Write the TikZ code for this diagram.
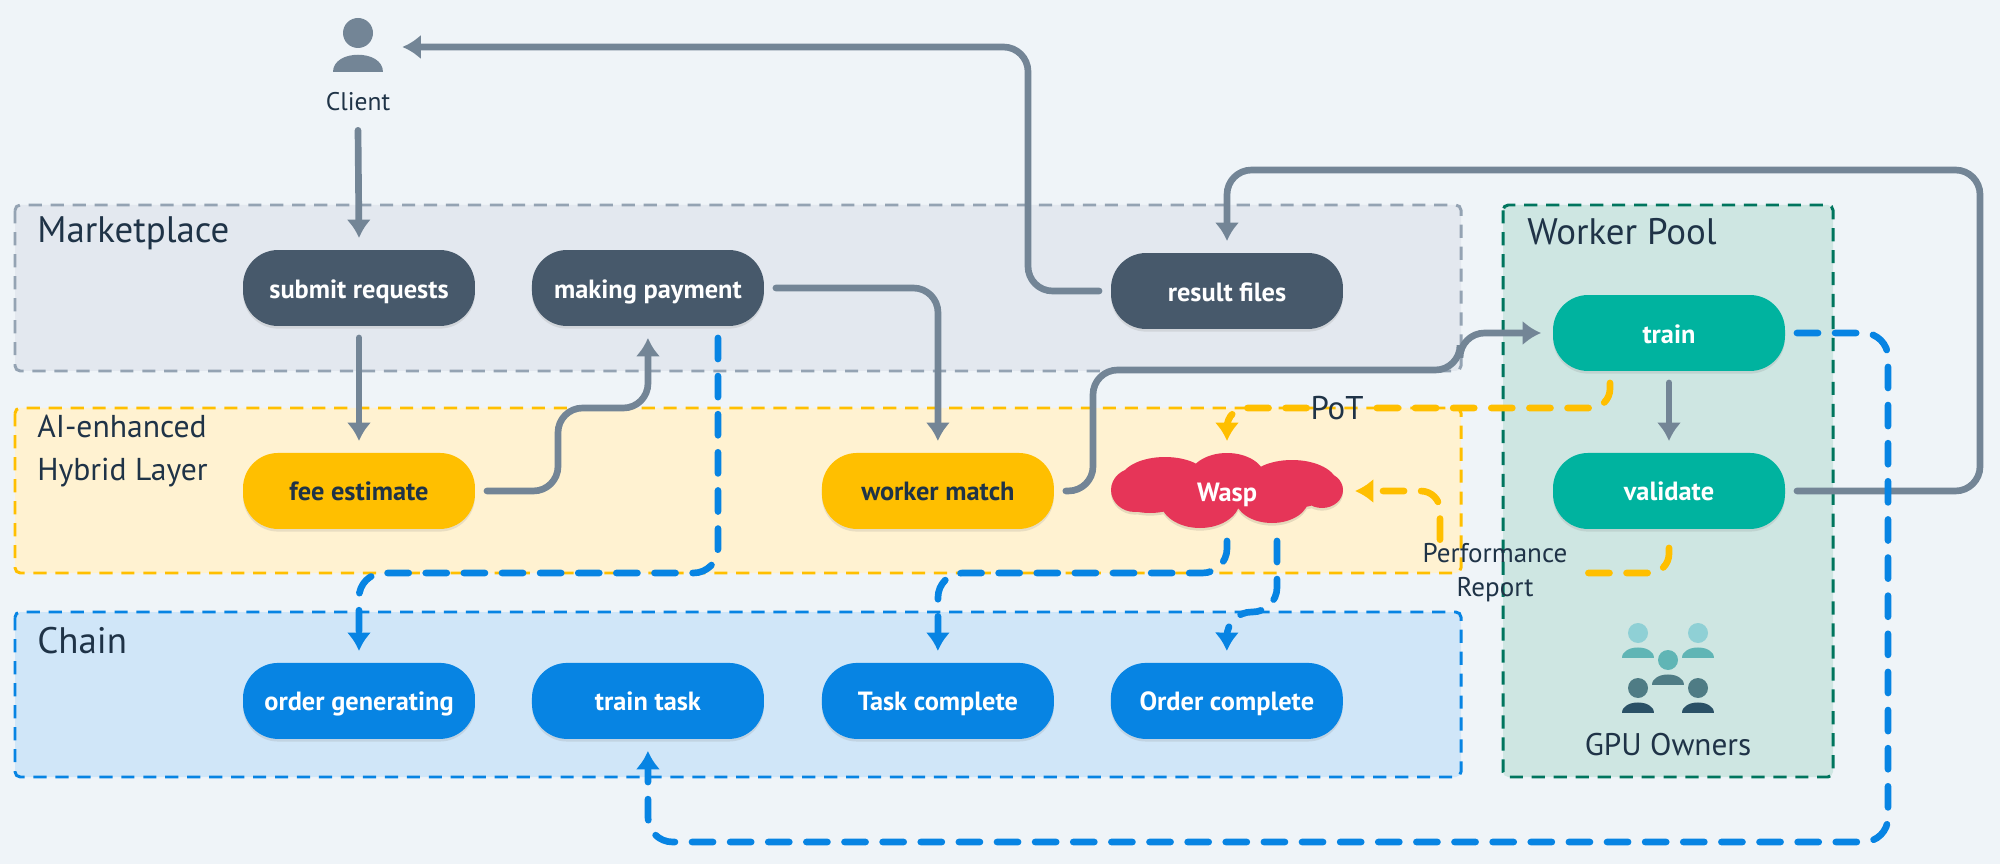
\documentclass[tikz,border=0pt]{standalone}
\usepackage{fontspec}
\setmainfont{PT Sans}
\usepackage{tikz}
\usetikzlibrary{arrows.meta,calc,shadows}
\definecolor{pagecol}{HTML}{EFF4F8}
\definecolor{inkcol}{HTML}{1F3347}
\definecolor{flowgray}{HTML}{738596}
\definecolor{flowyellow}{HTML}{FFBF00}
\definecolor{flowblue}{HTML}{0784E3}
\definecolor{pillgray}{HTML}{47596B}
\definecolor{pillgreen}{HTML}{00B39F}
\definecolor{waspred}{HTML}{E63558}
\definecolor{marketfill}{HTML}{E3E8EF}
\definecolor{marketline}{HTML}{94A3B3}
\definecolor{hybridfill}{HTML}{FFF2D1}
\definecolor{chainfill}{HTML}{D0E6F8}
\definecolor{poolfill}{HTML}{CEE6E2}
\definecolor{poolline}{HTML}{00755E}
\definecolor{iconlight}{HTML}{8FD0D5}
\definecolor{iconmid}{HTML}{60B5B5}
\definecolor{icondim}{HTML}{4F7C85}
\definecolor{icondark}{HTML}{2A5166}
\tikzset{
  regionbox/.style={line width=1.7pt,dash pattern=on 7.5pt off 5pt,rounded corners=3pt},
  regionlabel/.style={anchor=west,align=left,text=inkcol,inner sep=0pt,font=\fontsize{21}{24}\selectfont},
  smalllabel/.style={text=inkcol,inner sep=0pt,align=center,font=\fontsize{15.4}{19.3}\selectfont},
  pilltext/.style={text=white,text height=11.4pt,text depth=0pt,font=\fontsize{15}{15}\selectfont\bfseries},
  pill/.style={pilltext,rounded corners=20pt,minimum width=4.64cm,minimum height=1.52cm,outer sep=6.8pt,
    drop shadow={opacity=.18,shadow xshift=0pt,shadow yshift=-1.5pt}},
  graypill/.style={pill,fill=pillgray},
  yellowpill/.style={pill,fill=flowyellow,text=inkcol},
  bluepill/.style={pill,fill=flowblue},
  greenpill/.style={pill,fill=pillgreen},
  flowtip/.style={-{Latex[length=10.5pt,width=14pt]}},
  grayflow/.style={flowtip,draw=flowgray,line width=3.8pt,line cap=round,rounded corners=14pt},
  yellowflow/.style={draw=flowyellow,line width=3.8pt,line cap=round,rounded corners=11pt,dash pattern=on 12pt off 9.7pt},
  blueflow/.style={flowtip,draw=flowblue,line width=3.8pt,line cap=round,rounded corners=14pt,dash pattern=on 12pt off 9.7pt},
  cloudpath/.style={insert path={(1165,481) ellipse [x radius=45,y radius=24] (1227,478) ellipse [x radius=38,y radius=25]
    (1292,484) ellipse [x radius=45,y radius=24] (1135,490) ellipse [x radius=24,y radius=22]
    (1150,495) ellipse [x radius=35,y radius=18] (1200,500) ellipse [x radius=40,y radius=28]
    (1272,498) ellipse [x radius=37,y radius=25] (1322,490) ellipse [x radius=21,y radius=18]}},
}
% head and shoulders: x, head y, head radius, half width of the shoulders, head colour, body colour
\newcommand{\personicon}[6]{
  \fill[#5] (#1,#2) circle (#3);
  \fill[#6] (#1-#4,#2+#3+#4*.95) .. controls (#1-#4,#2+#3+#4*.05) and (#1+#4,#2+#3+#4*.05) .. (#1+#4,#2+#3+#4*.95) -- cycle;
}
\begin{document}
\begin{tikzpicture}[x=0.02cm,y=-0.02cm]
  \path[use as bounding box,fill=pagecol] (0,0) rectangle (2000,864);

  % regions
  \draw[regionbox,fill=marketfill,draw=marketline] (15,205) rectangle (1461,371);
  \draw[regionbox,fill=hybridfill,draw=flowyellow] (15,408) rectangle (1461,573);
  \draw[regionbox,fill=chainfill,draw=flowblue] (15,612) rectangle (1461,777);
  \draw[regionbox,fill=poolfill,draw=poolline] (1503,205) rectangle (1833,777);

  \node[regionlabel] (marketlabel) at (37,233) {Marketplace};
  \node[regionlabel,font=\fontsize{18}{24}\selectfont] (hybridlabel) at (37,451) {AI-enhanced\\Hybrid Layer};
  \node[regionlabel] (chainlabel) at (37,641) {Chain};
  \node[regionlabel] (poollabel) at (1527,232) {Worker Pool};

  % client
  \personicon{358}{33}{15}{25}{flowgray}{flowgray}
  \node[minimum width=1.76cm,minimum height=1.2cm,inner sep=0pt] (clienticon) at (358,47) {};
  \node[smalllabel,font=\fontsize{14.5}{18}\selectfont,minimum height=1.12cm] (client) at (358,102) {Client};

  % marketplace row
  \node[graypill] (submit) at (359,288) {submit requests};
  \node[graypill,right of=submit,node distance=5.78cm] (payment) {making payment};
  \node[graypill] (result) at (1227,291) {result files};

  % hybrid row
  \node[yellowpill,below of=submit,node distance=4.06cm] (fee) {fee estimate};
  \node[yellowpill,right of=fee,node distance=11.58cm] (match) {worker match};
  \begin{scope}[transparency group,opacity=.1,yshift=-1.5pt]
    \fill[black,cloudpath];
  \end{scope}
  \fill[waspred,cloudpath];
  \node[pilltext,minimum width=4.64cm,minimum height=1.52cm,outer sep=6.8pt] (wasp) at (1227,491) {Wasp};

  % chain row
  \node[bluepill,below of=fee,node distance=4.2cm] (order) {order generating};
  \node[bluepill,right of=order,node distance=5.78cm] (task) {train task};
  \node[bluepill,right of=task,node distance=5.8cm] (taskdone) {Task complete};
  \node[bluepill,right of=taskdone,node distance=5.78cm] (orderdone) {Order complete};

  % worker pool
  \node[greenpill] (train) at (1669,333) {train};
  \node[greenpill,below of=train,node distance=3.16cm] (validate) {validate};
  \personicon{1638}{633}{10}{16}{iconlight}{iconmid}
  \personicon{1698}{633}{10}{16}{iconlight}{iconmid}
  \personicon{1668}{660}{10}{16}{iconmid}{icondim}
  \personicon{1638}{688}{10}{16}{icondim}{icondark}
  \personicon{1698}{688}{10}{16}{icondim}{icondark}
  \node[regionlabel,anchor=center,font=\fontsize{17.8}{18}\selectfont] (owners) at (1668,745) {GPU Owners};

  % labels on the yellow lines
  \node[regionlabel,anchor=center,font=\fontsize{18.7}{18}\selectfont,minimum width=1.2cm,minimum height=.6cm] (pot) at (1337,408) {PoT};
  \node[smalllabel,minimum width=3.72cm,minimum height=1.32cm] (perf) at (1495,573) {Performance\\Report};

  % gray flows
  \draw[grayflow] (client.south) -- (submit.north);
  \draw[grayflow] (submit.south) -- (fee.north);
  \draw[grayflow] (fee.east) -- (558,491) -- (558,408) -- (648,408) -- (payment.south);
  \draw[grayflow] (payment.east) -- (938,288) -- (match.north);
  \draw[grayflow] (result.west) -- (1028,291) -- (1028,47) -- (clienticon.east);
  \draw[grayflow] (match.east) -- (1093,491) -- (1093,370) -- (1460,370) -- (1460,333) -- (train.west);
  \draw[grayflow] (train.south) -- (validate.north);
  \draw[grayflow] (validate.east) -- (1980,491) -- (1980,170) -- (1227,170) -- (result.north);

  % yellow flows
  \draw[yellowflow] ($(train.south)+(-59,0)$) -- (1610,408) -- (pot.east);
  \draw[yellowflow,flowtip] (pot.west) -- (1227,408) -- (wasp.north);
  \draw[yellowflow,shorten <=4pt] (validate.south) -- (1669,573) -- (perf.east);
  \draw[yellowflow,flowtip] ($(perf.north)+(-55,0)$) -- (1440,491) -- (wasp.east);

  % blue flows
  \draw[blueflow] ($(payment.south)+(70,0)$) -- (718,573) -- (359,573) -- (order.north);
  \draw[blueflow] (wasp.south) -- (1227,573) -- (938,573) -- (taskdone.north);
  \draw[blueflow] ($(wasp.south)+(50,0)$) -- (1277,612) -- (1227,612) -- (orderdone.north);
  \draw[blueflow] (train.east) -- (1888,333) -- (1888,842) -- (648,842) -- (task.south);
\end{tikzpicture}
\end{document}
